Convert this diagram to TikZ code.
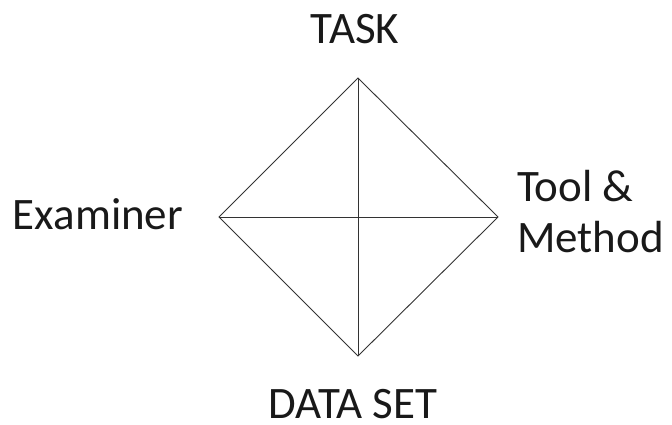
\documentclass[tikz,border=0pt]{standalone}
\usepackage{fontspec}
\setmainfont{Carlito}
\usetikzlibrary{positioning}

\begin{document}
\begin{tikzpicture}[x=1bp, y=-1bp, font=\fontsize{45bp}{51bp}\selectfont]
\tikzstyle{label} = [inner sep=0pt, outer sep=0pt, text=black!90]
\tikzstyle{edge} = [line width=0.9bp, draw=black!80]
\useasboundingbox (0,0) rectangle (672,424);

% corners of the diamond
\coordinate (top) at (358,78);
\coordinate (bottom) at (358,356);
\coordinate (left) at (219,217);
\coordinate (right) at (498,217);

\node (task) [label, anchor=base] at (355,43) {TASK};
\node (dataset) [label, anchor=base] at (353,418) {DATA SET};
\node (examiner) [label, anchor=base] at (98,229) {Examiner};
\node (tool) [label, anchor=base west] at (517,201) {Tool \&};
\node (method) [label, anchor=base west] at (517,252) {Method};

\draw [edge] (top) -- (right) -- (bottom) -- (left) -- cycle;
\draw [edge] (top) -- (bottom);
\draw [edge] (left) -- (right);
\end{tikzpicture}
\end{document}
